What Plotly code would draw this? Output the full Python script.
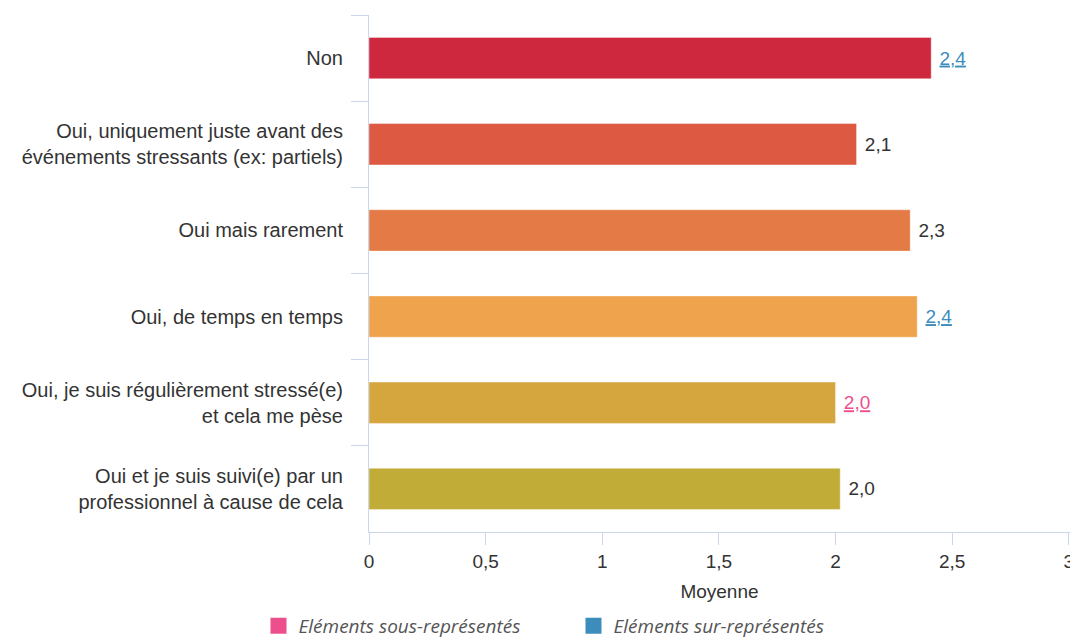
import plotly.graph_objects as go

categories = [
    "Non",
    "Oui, uniquement juste avant des<br>événements stressants (ex: partiels)",
    "Oui mais rarement",
    "Oui, de temps en temps",
    "Oui, je suis régulièrement stressé(e)<br>et cela me pèse",
    "Oui et je suis suivi(e) par un<br>professionnel à cause de cela",
]
values = [2.41, 2.09, 2.32, 2.35, 2.00, 2.02]
# representation status: "sur" (over), "sous" (under) or "" (neutral)
status = ["sur", "", "", "sur", "sous", ""]
bar_colors = ["#CE283F", "#DD5941", "#E47A45", "#EFA34C", "#D5A63E", "#C2AC38"]
legend_labels = ["Eléments sous-représentés", "Eléments sur-représentés"]
legend_colors = ["#EC4F8C", "#3C8DBC"]
x_ticks = [0, 0.5, 1, 1.5, 2, 2.5, 3]
x_ticktext = ["0", "0,5", "1", "1,5", "2", "2,5", "3"]

status_color = {"sur": "#3C8DBC", "sous": "#EC4F8C", "": "#333333"}

texts = []
text_colors = []
for v, s in zip(values, status):
    lab = f"{v:.1f}".replace(".", ",")
    if s:
        lab = f"<u>{lab}</u>"
    texts.append(" " + lab)
    text_colors.append(status_color[s])

FONT = "Liberation Sans, Arial, sans-serif"

fig = go.Figure()
fig.add_trace(go.Bar(
    x=values, y=categories, orientation="h",
    marker=dict(color=bar_colors, line=dict(width=1, color="rgba(255,255,255,0.4)")),
    width=0.48,
    text=texts, textposition="outside",
    textfont=dict(color=text_colors, size=19, family=FONT),
    cliponaxis=False, showlegend=False, hoverinfo="skip",
))
for lab, col in zip(legend_labels, legend_colors):
    fig.add_trace(go.Scatter(
        x=[None], y=[None], mode="markers", name=f"<i>{lab}</i>",
        marker=dict(symbol="square", size=20, color=col),
    ))

fig.update_layout(
    width=1070, height=638,
    margin=dict(l=369, r=0, t=15, b=106),
    paper_bgcolor="white", plot_bgcolor="white",
    separators=", ",
    font=dict(family=FONT, size=19, color="#333333"),
    showlegend=True,
    legend=dict(
        orientation="h", xref="container", yref="container",
        x=258.5 / 1070, xanchor="left", y=1 - 607 / 638, yanchor="top",
        font=dict(family="Open Sans, sans-serif", size=19, color="#555555"),
        itemwidth=30, entrywidth=270, entrywidthmode="pixels",
    ),
    xaxis=dict(
        range=[0, 3.005], tickvals=x_ticks, ticktext=x_ticktext,
        showgrid=False, zeroline=False, automargin=False,
        showline=True, linecolor="#CCD6EB", linewidth=1,
        ticks="outside", ticklen=12, tickcolor="#CCD6EB",
        ticklabeloverflow="allow",
        tickfont=dict(size=19, color="#333333"),
        title=dict(text="Moyenne", font=dict(size=19, color="#333333"), standoff=13),
    ),
    yaxis=dict(
        autorange="reversed", type="category",
        showgrid=False, zeroline=False, automargin=False,
        showline=True, linecolor="#CCD6EB", linewidth=1,
        ticks="outside", ticklen=17, tickcolor="#CCD6EB", tickson="boundaries",
        ticklabelstandoff=21,
        tickfont=dict(size=20, color="#333333"),
    ),
)

fig.write_html("out.html")
